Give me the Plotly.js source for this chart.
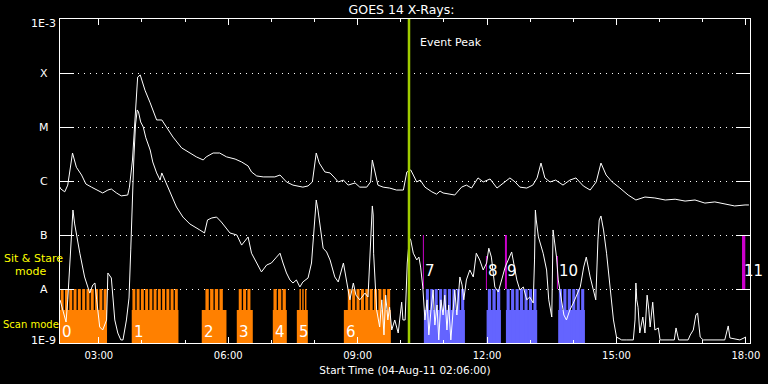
<!DOCTYPE html>
<html><head><meta charset="utf-8">
<script src="https://cdn.plot.ly/plotly-3.0.1.min.js"></script>
<style>html,body{margin:0;padding:0;background:#000;}#chart{width:768px;height:384px;}</style>
</head><body><div id="chart"></div>
<script>
// Times are hours (UT) on 04-Aug-2011; fluxes in W/m^2
const longTime = [2.10,2.12,2.21,2.28,2.39,2.48,2.60,2.70,2.83,2.98,3.09,3.21,3.29,3.41,3.52,3.67,3.71,3.78,3.85,3.90,3.96,4.07,4.19,4.34,4.46,4.57,4.72,4.92,5.11,5.26,5.42,5.49,5.65,5.80,5.96,6.16,6.31,6.46,6.54,6.66,6.81,6.96,7.08,7.20,7.35,7.50,7.73,7.85,7.95,8.04,8.11,8.24,8.36,8.47,8.55,8.67,8.78,8.94,9.05,9.21,9.30,9.34,9.40,9.47,9.59,9.74,9.90,10.06,10.14,10.23,10.29,10.37,10.45,10.56,10.72,10.83,10.91,10.98,11.14,11.25,11.41,11.52,11.64,11.79,11.91,12.07,12.23,12.38,12.53,12.65,12.76,12.92,13.06,13.16,13.25,13.34,13.46,13.59,13.76,13.92,14.06,14.23,14.39,14.53,14.64,14.76,14.90,15.08,15.27,15.45,15.66,15.89,16.13,16.36,16.59,16.82,17.05,17.28,17.51,17.74,17.98,18.07];
const longFlux = [7.7e-7,7.1e-7,6.3e-7,8.4e-7,3.3e-6,1.8e-6,1.29e-6,8.8e-7,7.7e-7,6.8e-7,6.0e-7,6.8e-7,7.1e-7,6.0e-7,5.3e-7,5.5e-7,7.7e-7,2.45e-6,2.07e-5,8.4e-5,9.2e-5,4.8e-5,2.8e-5,1.35e-5,1.35e-5,1.0e-5,6.5e-6,4.1e-6,3.3e-6,2.8e-6,2.45e-6,2.8e-6,3.3e-6,3.3e-6,2.8e-6,2.55e-6,2.25e-6,1.9e-6,1.47e-6,1.24e-6,1.19e-6,1.19e-6,1.19e-6,1.29e-6,9.6e-7,8.4e-7,7.7e-7,8.1e-7,9.6e-7,3.3e-6,2.15e-6,1.47e-6,1.41e-6,1.14e-6,9.6e-7,1.04e-6,8.4e-7,9.2e-7,7.7e-7,7.7e-7,9.6e-7,2.45e-6,1.47e-6,8.4e-7,7.7e-7,7.4e-7,6.8e-7,6.8e-7,1.47e-6,1.6e-6,1.29e-6,9.6e-7,1.04e-6,7.7e-7,6.3e-7,5.7e-7,6.5e-7,6.0e-7,5.7e-7,5.5e-7,7.7e-7,8.4e-7,7.4e-7,1.14e-6,9.6e-7,1.09e-6,7.4e-7,9.2e-7,1.14e-6,9.6e-7,7.7e-7,7.4e-7,8.4e-7,1.14e-6,2.15e-6,1.14e-6,9.6e-7,1.04e-6,8.4e-7,1.04e-6,1.14e-6,8.1e-7,6.8e-7,9.6e-7,2.15e-6,1.29e-6,9.6e-7,7.4e-7,5.5e-7,4.45e-7,5.05e-7,4.85e-7,4.45e-7,4.6e-7,4.25e-7,4.45e-7,3.9e-7,4.1e-7,3.75e-7,3.45e-7,3.6e-7,3.6e-7];
const shortTime = [2.10,2.17,2.24,2.28,2.33,2.37,2.40,2.44,2.49,2.56,2.67,2.74,2.79,2.86,2.91,2.95,2.98,3.02,3.09,3.18,3.21,3.29,3.37,3.44,3.51,3.56,3.64,3.70,3.74,3.76,3.81,3.85,3.89,3.92,3.97,4.03,4.09,4.19,4.25,4.34,4.42,4.46,4.53,4.65,4.80,4.95,5.11,5.34,5.45,5.52,5.62,5.73,5.84,6.04,6.20,6.31,6.46,6.54,6.66,6.77,6.89,7.00,7.12,7.20,7.27,7.35,7.43,7.50,7.58,7.66,7.73,7.85,7.93,7.97,8.01,8.04,8.08,8.17,8.20,8.28,8.36,8.47,8.55,8.67,8.74,8.82,8.90,8.96,9.05,9.17,9.24,9.28,9.32,9.34,9.36,9.37,9.44,9.51,9.56,9.61,9.65,9.70,9.74,9.79,9.86,9.94,10.02,10.05,10.10,10.15,10.20,10.23,10.29,10.37,10.42,10.46,10.51,10.56,10.61,10.65,10.70,10.75,10.79,10.84,10.88,10.93,10.98,11.02,11.07,11.11,11.16,11.21,11.25,11.30,11.37,11.42,11.46,11.52,11.60,11.68,11.75,11.83,11.91,11.99,12.04,12.10,12.18,12.26,12.34,12.42,12.49,12.57,12.69,12.76,12.84,12.92,12.99,13.07,13.10,13.12,13.14,13.19,13.30,13.38,13.43,13.50,13.53,13.57,13.61,13.65,13.73,13.78,13.84,13.92,14.00,14.07,14.16,14.24,14.30,14.39,14.47,14.52,14.57,14.60,14.64,14.70,14.77,14.85,14.93,15.00,15.12,15.24,15.39,15.43,15.45,15.47,15.50,15.54,15.61,15.66,15.71,15.75,15.78,15.84,15.89,15.97,16.01,16.24,16.34,16.38,16.44,16.66,16.71,16.78,16.84,16.88,16.94,17.01,17.24,17.51,17.59,17.63,17.86,18.00];
const shortFlux = [6.3e-9,4.1e-9,2.45e-9,6.3e-9,3.16e-8,1.47e-7,2.9e-7,1.6e-7,9.2e-8,4.6e-8,1.67e-8,1.09e-8,8.4e-9,1.19e-8,1.29e-8,6.3e-9,4.1e-9,1.98e-9,1.74e-9,2.67e-9,1.98e-8,1.6e-8,2.67e-9,1.53e-9,1.14e-9,1.14e-9,2.67e-9,6.8e-9,5.3e-8,1.9e-7,2.45e-6,1.09e-5,2.07e-5,1.9e-5,1.24e-5,1.0e-5,6.3e-6,3.75e-6,2.25e-6,1.41e-6,1.04e-6,1.41e-6,1.04e-6,6.0e-7,3.3e-7,2.15e-7,1.6e-7,1.24e-7,1.09e-7,1.9e-7,2.07e-7,2.15e-7,1.74e-7,1.09e-7,1.0e-7,6.5e-8,9.2e-8,4.6e-8,3.03e-8,2.07e-8,2.78e-8,3.03e-8,3.9e-8,4.6e-8,3.03e-8,1.98e-8,1.47e-8,1.29e-8,1.47e-8,1.09e-8,1.35e-8,1.6e-8,3.03e-8,8.1e-8,2.67e-7,4.45e-7,2.9e-7,1.0e-7,5.7e-8,4.85e-8,3.45e-8,1.67e-8,1.35e-8,3.03e-8,1.47e-8,6.3e-9,1.29e-8,7.7e-9,6.3e-9,8.4e-9,7.1e-9,4.6e-8,1.9e-7,3.45e-7,2.35e-7,4.6e-8,4.1e-9,1.98e-9,6.3e-9,1.41e-9,7.7e-9,2.67e-9,4.6e-9,1.74e-9,2.67e-9,1.53e-9,5.7e-9,2.67e-9,2.67e-9,3.03e-8,8.8e-8,8.1e-8,4.6e-8,3.45e-8,3.9e-8,2.55e-8,1.09e-8,2.67e-9,6.3e-9,1.41e-9,4.1e-9,9.6e-9,2.15e-9,5.05e-9,1.14e-9,6.3e-9,3.3e-9,7.7e-9,1.74e-9,5.05e-9,1.14e-9,4.1e-9,9.6e-9,3.3e-9,1.67e-8,1.19e-8,6.3e-9,1.47e-8,2.25e-8,1.67e-8,4.6e-8,3.45e-8,2.25e-8,3.03e-8,5.7e-8,3.9e-8,1.09e-8,8.8e-9,1.47e-8,2.55e-8,3.45e-8,4.85e-8,1.47e-8,9.6e-9,1.09e-8,6.3e-9,7.1e-9,5.5e-9,3.45e-8,2.9e-7,1.9e-7,9.2e-8,4.6e-8,2.25e-8,6.3e-9,3.03e-9,1.24e-7,6.5e-8,3.9e-8,1.47e-8,5.5e-9,3.3e-9,2.67e-9,4.1e-9,5.5e-9,7.7e-9,1.09e-8,2.55e-8,3.9e-8,1.67e-8,8.4e-9,6.3e-9,8.1e-8,1.9e-7,2.25e-7,1.24e-7,4.6e-8,1.09e-8,2.67e-9,1.29e-9,1.14e-9,1.14e-9,1.14e-9,2.67e-9,1.29e-8,6.3e-9,4.6e-9,1.53e-9,3.03e-9,1.53e-9,7.7e-9,4.1e-9,1.98e-9,5.7e-9,1.74e-9,1.9e-9,1.14e-9,1.14e-9,1.14e-9,1.9e-9,1.14e-9,1.14e-9,1.41e-9,1.74e-9,3.3e-9,3.6e-9,1.29e-9,1.14e-9,1.14e-9,1.14e-9,2.07e-9,1.24e-9,1.14e-9,1.29e-9];

const yTickVals = [1e-9,1e-8,1e-7,1e-6,1e-5,1e-4,1e-3];
const yTickText = ['1E-9','A','B','C','M','X','1E-3'];
const xTickVals = [3,6,9,12,15,18];
const xTickText = ['03:00','06:00','09:00','12:00','15:00','18:00'];
const eventPeak = 10.19;

// Scan-mode intervals (hours) and rasters
const scanLabel = ['0','1','2','3','4','5','6','','','',''];
const scanKind = ['scan','scan','scan','scan','scan','scan','scan','ss','ss','ss','ss'];
const scanStart = [2.100,3.763,5.386,6.198,7.033,7.590,8.680,10.535,11.989,12.437,13.649];
const scanEnd = [3.190,4.846,5.959,6.569,7.358,7.845,9.769,11.486,12.321,13.162,14.268];
const rasterStart = [2.100,3.763,5.456,6.228,7.033,7.636,8.756,10.565,12.003,12.437,13.649];
const rasterEnd = [3.197,4.846,5.890,6.530,7.351,7.828,9.769,11.486,12.321,13.162,14.268];
const rasterCount = [11,11,4,3,3,3,10,9,3,7,6];

// Sit & Stare pointings
const ssLabel = ['7','8','9','10','11'];
const ssStart = [10.512,11.973,12.414,13.619,17.910];
const ssEnd = [10.535,11.996,12.460,13.642,17.986];
const ssTop = [1e-7,4.1e-8,1e-7,4.1e-8,1e-7];

// ---- styles ----
const FONT = 'DejaVu Sans';
const kindColor = {scan:'#ff8000', ss:'#6464ff'};
const BASE_TOP = 4.1e-9, RASTER_TOP = 1e-8, FLOOR = 1e-12, GAP = 0.031;
const labelShift = {'1E-3':-4,'1E-9':3};

const baseX=[],baseW=[],baseC=[];
const toothX=[],toothW=[],toothC=[];
for(let i=0;i<scanStart.length;i++){
  baseX.push((scanStart[i]+scanEnd[i])/2); baseW.push(scanEnd[i]-scanStart[i]); baseC.push(kindColor[scanKind[i]]);
  const slot=(rasterEnd[i]-rasterStart[i])/rasterCount[i];
  for(let k=0;k<rasterCount[i];k++){
    toothX.push(rasterStart[i]+slot*(k+0.5)); toothW.push(slot-GAP); toothC.push(kindColor[scanKind[i]]);
  }
}
const traces=[
 {type:'bar',x:baseX,y:baseX.map(()=>BASE_TOP),base:FLOOR,width:baseW,marker:{color:baseC,line:{width:0}},hoverinfo:'skip'},
 {type:'bar',x:toothX,y:toothX.map(()=>RASTER_TOP),base:FLOOR,width:toothW,marker:{color:toothC,line:{width:0}},hoverinfo:'skip'},
 {type:'bar',x:ssStart.map((s,i)=>(s+ssEnd[i])/2),y:ssTop.map(v=>v-RASTER_TOP),base:RASTER_TOP,width:ssStart.map((s,i)=>ssEnd[i]-s),marker:{color:'#cc00cc',line:{width:0}},hoverinfo:'skip'},
 {type:'scatter',mode:'lines',x:shortTime,y:shortFlux,line:{color:'#ffffff',width:1},hoverinfo:'skip'},
 {type:'scatter',mode:'lines',x:longTime,y:longFlux,line:{color:'#ffffff',width:1},hoverinfo:'skip'},
 {type:'scatter',mode:'lines',x:[eventPeak,eventPeak],y:[yTickVals[0],yTickVals[yTickVals.length-1]],line:{color:'#a0cc00',width:2.5},hoverinfo:'skip'}
];

const ann=[];
yTickVals.forEach((v,i)=>ann.push({xref:'paper',yref:'y',x:-0.0232,y:Math.log10(v),yshift:labelShift[yTickText[i]]||0,text:yTickText[i],showarrow:false,xanchor:'center',yanchor:'middle',font:{family:FONT,size:11,color:'#fff'}}));
scanLabel.forEach((t,i)=>{ if(t) ann.push({xref:'x',yref:'paper',x:scanStart[i],y:0.034,text:t,showarrow:false,xanchor:'left',yanchor:'middle',xshift:0,font:{family:FONT,size:15,color:'#fff'}}); });
ssLabel.forEach((t,i)=>ann.push({xref:'x',yref:'paper',x:ssStart[i],y:0.2207,text:t,showarrow:false,xanchor:'left',yanchor:'middle',font:{family:FONT,size:15,color:'#fff'}}));
ann.push({xref:'x',yref:'paper',x:eventPeak,xshift:9,y:0.926,text:'Event Peak',showarrow:false,xanchor:'left',yanchor:'middle',font:{family:FONT,size:11,color:'#fff'}});
ann.push({xref:'paper',yref:'paper',x:-0.084,y:0.262,text:'Sit & Stare',showarrow:false,xanchor:'left',yanchor:'middle',font:{family:FONT,size:11,color:'#ffff00'}});
ann.push({xref:'paper',yref:'paper',x:-0.0686,y:0.221,text:'mode',showarrow:false,xanchor:'left',yanchor:'middle',font:{family:FONT,size:11,color:'#ffff00'}});
ann.push({xref:'paper',yref:'paper',x:-0.086,y:0.0586,text:'Scan mode',showarrow:false,xanchor:'left',yanchor:'middle',font:{family:FONT,size:10,color:'#ffff00'}});

const layout={
 width:768,height:384,paper_bgcolor:'#000',plot_bgcolor:'#000',
 margin:{l:60,r:18,t:19,b:41},showlegend:false,barmode:'overlay',
 font:{family:FONT,color:'#fff'},
 title:{text:'GOES 14 X-Rays:',xref:'paper',x:0.495,xanchor:'center',yref:'container',y:0.975,yanchor:'middle',font:{family:FONT,size:12.5,color:'#fff'}},
 xaxis:{type:'linear',range:[2.1,18.095],tickmode:'array',tickvals:xTickVals,ticktext:xTickText,
   ticks:'inside',ticklen:6,tickcolor:'#fff',tickwidth:1,showgrid:false,zeroline:false,
   showline:true,linecolor:'#fff',linewidth:1,mirror:'ticks',ticklabelstandoff:3,
   tickfont:{family:FONT,size:10,color:'#fff'},
   minor:{tickmode:'linear',tick0:0,dtick:1,ticks:'inside',ticklen:3,tickcolor:'#fff',showgrid:false},
   title:{text:'Start Time (04-Aug-11 02:06:00)',standoff:6,font:{family:FONT,size:10.5,color:'#fff'}}},
 yaxis:{type:'log',range:[-9,-3],tickmode:'array',tickvals:yTickVals,ticktext:yTickText,showticklabels:false,
   ticks:'inside',ticklen:14,tickcolor:'#fff',tickwidth:1,
   showgrid:true,gridcolor:'#fff',gridwidth:1,griddash:'1px,5px',zeroline:false,
   showline:true,linecolor:'#fff',linewidth:1,mirror:'ticks'},
 annotations:ann
};
Plotly.newPlot('chart',traces,layout,{staticPlot:true,displayModeBar:false});
</script></body></html>
